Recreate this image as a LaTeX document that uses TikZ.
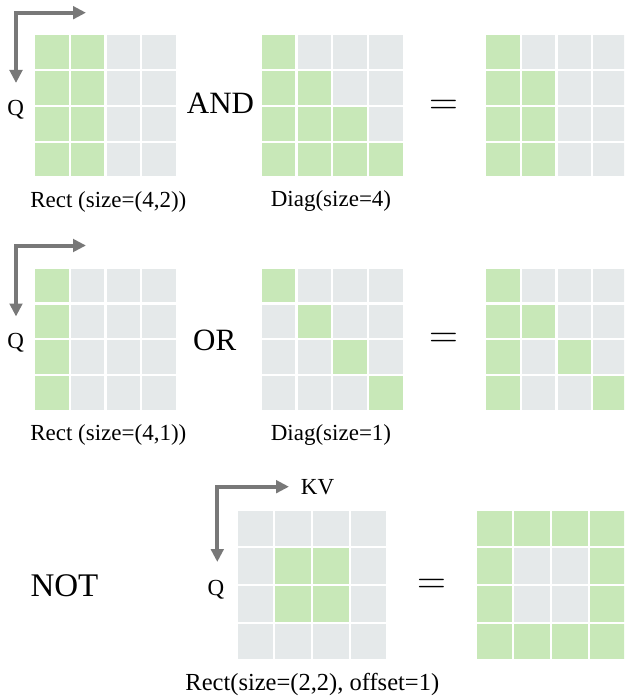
\documentclass[tikz,border=0pt]{standalone}
\usepackage{fontspec}
\setmainfont{Liberation Serif}
\newfontfamily\eqfont{Latin Modern Roman}
\usetikzlibrary{arrows.meta}
\definecolor{cellon}{RGB}{200,232,184}
\definecolor{celloff}{RGB}{229,233,234}
\definecolor{arrowgray}{RGB}{120,120,120}
\newcommand{\maskgrid}[5]{%
  \foreach \v [count=\i from 0] in {#5} {%
    \pgfmathtruncatemacro\rr{div(\i,4)}%
    \pgfmathtruncatemacro\cc{mod(\i,4)}%
    \ifnum\v=1\relax
      \fill[cellon] ({#1+\cc*#3},{#2+\rr*#3}) rectangle ++(#4,#4);
    \else
      \fill[celloff] ({#1+\cc*#3},{#2+\rr*#3}) rectangle ++(#4,#4);
    \fi
  }%
}
\begin{document}
\begin{tikzpicture}[x=1pt,y=-1pt,
  axisarrow/.style={draw=arrowgray, line width=4pt, line join=miter,
    {Triangle[length=13pt,width=12.5pt]}-{Triangle[length=13pt,width=12.5pt]}},
  axislabel/.style={inner sep=0pt, anchor=base, font=\fontsize{23}{27}\selectfont},
  oplabel/.style={inner sep=0pt, anchor=base, font=\fontsize{31}{36}\selectfont},
  eqlabel/.style={inner sep=0pt, anchor=center, font=\eqfont\fontsize{40}{44}\selectfont},
  caption/.style={inner sep=0pt, anchor=base, font=\fontsize{23}{27}\selectfont}]
\useasboundingbox (0,0) rectangle (624,698);
\clip (0,0) rectangle (624,698);

% ---------- row 1: AND ----------
\coordinate (c1) at (16,12.7);
\coordinate (h1) at (86,12.7);
\coordinate (v1) at (16,83);
\draw[axisarrow] (v1) -- (c1) -- (h1);
\node[axislabel] (q1) at (15.7,115) {Q};
\maskgrid{35}{35.3}{35.8}{33.6}{1,1,0,0, 1,1,0,0, 1,1,0,0, 1,1,0,0}
\node[oplabel] (and) at (220.5,113.3) {AND};
\maskgrid{261.7}{35.3}{35.8}{33.6}{1,0,0,0, 1,1,0,0, 1,1,1,0, 1,1,1,1}
\node[eqlabel] (eq1) at (443.5,107) {=};
\maskgrid{486}{35.3}{35.8}{33.6}{1,0,0,0, 1,1,0,0, 1,1,0,0, 1,1,0,0}
\node[caption] (cap1a) at (108.3,207.3) {Rect (size=(4,2))};
\node[caption] (cap1b) at (331,206.7) {Diag(size=4)};

% ---------- row 2: OR ----------
\coordinate (c2) at (16,245.5);
\coordinate (h2) at (86,245.5);
\coordinate (v2) at (16,316.5);
\draw[axisarrow] (v2) -- (c2) -- (h2);
\node[axislabel] (q2) at (15.7,348.4) {Q};
\maskgrid{35}{268.7}{35.8}{33.6}{1,0,0,0, 1,0,0,0, 1,0,0,0, 1,0,0,0}
\node[oplabel] (or) at (214.7,350) {OR};
\maskgrid{261.7}{268.7}{35.8}{33.6}{1,0,0,0, 0,1,0,0, 0,0,1,0, 0,0,0,1}
\node[eqlabel] (eq2) at (443.7,340) {=};
\maskgrid{486}{268.7}{35.8}{33.6}{1,0,0,0, 1,1,0,0, 1,0,1,0, 1,0,0,1}
\node[caption] (cap2a) at (108.3,440.7) {Rect (size=(4,1))};
\node[caption] (cap2b) at (331,440) {Diag(size=1)};

% ---------- row 3: NOT ----------
\node[oplabel, font=\fontsize{33}{38}\selectfont] (not) at (64.5,596.7) {NOT};
\coordinate (c3) at (217.3,486.7);
\coordinate (h3) at (289,486.7);
\coordinate (v3) at (217.3,562);
\draw[axisarrow] (v3) -- (c3) -- (h3);
\node[axislabel] (kv) at (317.5,494.3) {KV};
\node[axislabel] (q3) at (216,595) {Q};
\maskgrid{237.7}{510.7}{37.6}{35.6}{0,0,0,0, 0,1,1,0, 0,1,1,0, 0,0,0,0}
\node[eqlabel] (eq3) at (431.5,586) {=};
\maskgrid{476.7}{510.7}{37.6}{35.6}{1,1,1,1, 1,0,0,1, 1,0,0,1, 1,1,1,1}
\node[caption, font=\fontsize{24.5}{28}\selectfont] (cap3) at (312.3,690) {Rect(size=(2,2), offset=1)};
\end{tikzpicture}
\end{document}
